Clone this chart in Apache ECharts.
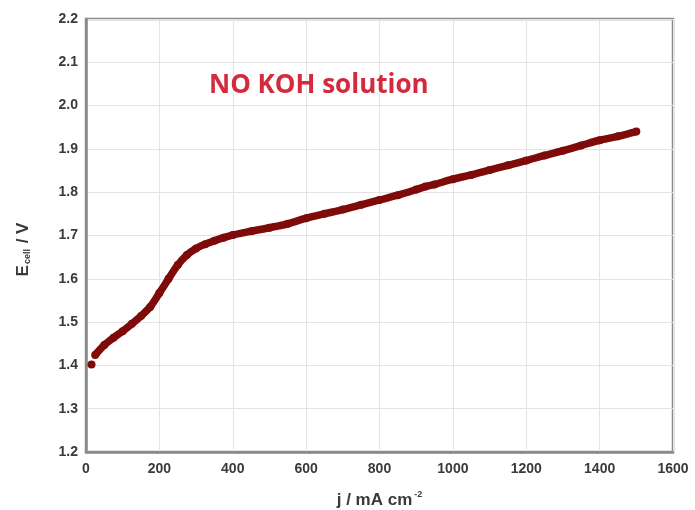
<!DOCTYPE html>
<html>
<head>
<meta charset="utf-8">
<script src="https://cdn.jsdelivr.net/npm/echarts@6/dist/echarts.min.js"></script>
<style>html,body{margin:0;padding:0;background:#fff}#c{width:695px;height:510px}</style>
</head>
<body>
<div id="c"></div>
<script>
var xTicks = [0, 200, 400, 600, 800, 1000, 1200, 1400, 1600];
var yTicks = [1.2, 1.3, 1.4, 1.5, 1.6, 1.7, 1.8, 1.9, 2.0, 2.1, 2.2];
var startJ = [15];
var startE = [1.402];
var j = [25, 50, 75, 100, 125, 150, 175, 200, 225, 250, 275, 300, 325, 350, 375, 400, 450, 500, 550, 600, 650, 700, 750, 800, 850, 900, 925, 950, 1000, 1050, 1100, 1150, 1200, 1250, 1300, 1350, 1400, 1450, 1500];
var E = [1.424, 1.447, 1.464, 1.479, 1.496, 1.514, 1.535, 1.567, 1.600, 1.632, 1.655, 1.670, 1.680, 1.688, 1.695, 1.701, 1.710, 1.718, 1.727, 1.740, 1.750, 1.760, 1.771, 1.782, 1.793, 1.806, 1.813, 1.818, 1.830, 1.840, 1.851, 1.862, 1.873, 1.885, 1.896, 1.908, 1.920, 1.929, 1.940];

var chart = echarts.init(document.getElementById('c'));
var lineData = j.map(function (v, i) { return [v, E[i]]; });
var startData = startJ.map(function (v, i) { return [v, startE[i]]; });
var labelStyle = { color: '#3a3a3a', fontFamily: 'Liberation Sans, Arial', fontWeight: 'bold', fontSize: 14 };
chart.setOption({
  animation: false,
  grid: { left: 86, right: 22, top: 19, bottom: 58, outerBoundsMode: 'none', containLabel: false, show: true, borderColor: '#8a8a8a', borderWidth: 2.5, backgroundColor: '#fff' },
  title: {
    text: 'NO KOH solution', left: 204, top: 68,
    textStyle: { color: '#d42a3c', fontFamily: 'Open Sans', fontWeight: 'bold', fontSize: 26 }
  },
  xAxis: {
    type: 'value', min: 0, max: 1600, interval: 200,
    axisLine: { show: true, lineStyle: { color: '#8a8a8a', width: 2.5 } },
    axisTick: { show: false },
    splitLine: { show: true, lineStyle: { color: '#e4e4e4', width: 1 } },
    axisLabel: Object.assign({ margin: 10, formatter: function (v) { return xTicks.indexOf(v) >= 0 ? String(v) : ''; } }, labelStyle),
    name: '{a|j / mA cm}{s|-2}', nameLocation: 'middle', nameGap: 38,
    nameTextStyle: {
      rich: {
        a: { color: '#3a3a3a', fontFamily: 'Liberation Sans, Arial', fontWeight: 'bold', fontSize: 17 },
        s: { color: '#3a3a3a', fontFamily: 'Liberation Sans, Arial', fontWeight: 'bold', fontSize: 9, verticalAlign: 'top', padding: [0, 0, 11, 2] }
      }
    }
  },
  yAxis: {
    type: 'value', min: 1.2, max: 2.2, interval: 0.1,
    axisLine: { show: true, lineStyle: { color: '#8a8a8a', width: 2.5 } },
    axisTick: { show: false },
    splitLine: { show: true, lineStyle: { color: '#e4e4e4', width: 1 } },
    axisLabel: Object.assign({ margin: 8, formatter: function (v) { return v.toFixed(1); } }, labelStyle),
    name: '{a|E}{s|cell}{a| / V}', nameLocation: 'middle', nameGap: 54, nameRotate: 90,
    nameTextStyle: {
      padding: [0, 28, 0, 0],
      rich: {
        a: { color: '#3a3a3a', fontFamily: 'Liberation Sans, Arial', fontWeight: 'bold', fontSize: 17 },
        s: { color: '#3a3a3a', fontFamily: 'Liberation Sans, Arial', fontWeight: 'bold', fontSize: 9, verticalAlign: 'bottom', padding: [9, 1, 0, 1] }
      }
    }
  },
  series: [
    {
      type: 'line', data: lineData, smooth: 0.3,
      symbol: 'circle', symbolSize: 8, showSymbol: true,
      itemStyle: { color: '#7f0a0a' },
      lineStyle: { color: '#7f0a0a', width: 7.5 }
    },
    {
      type: 'scatter', data: startData, symbol: 'circle', symbolSize: 8,
      itemStyle: { color: '#7f0a0a', opacity: 1 }
    }
  ]
});
</script>
</body>
</html>
